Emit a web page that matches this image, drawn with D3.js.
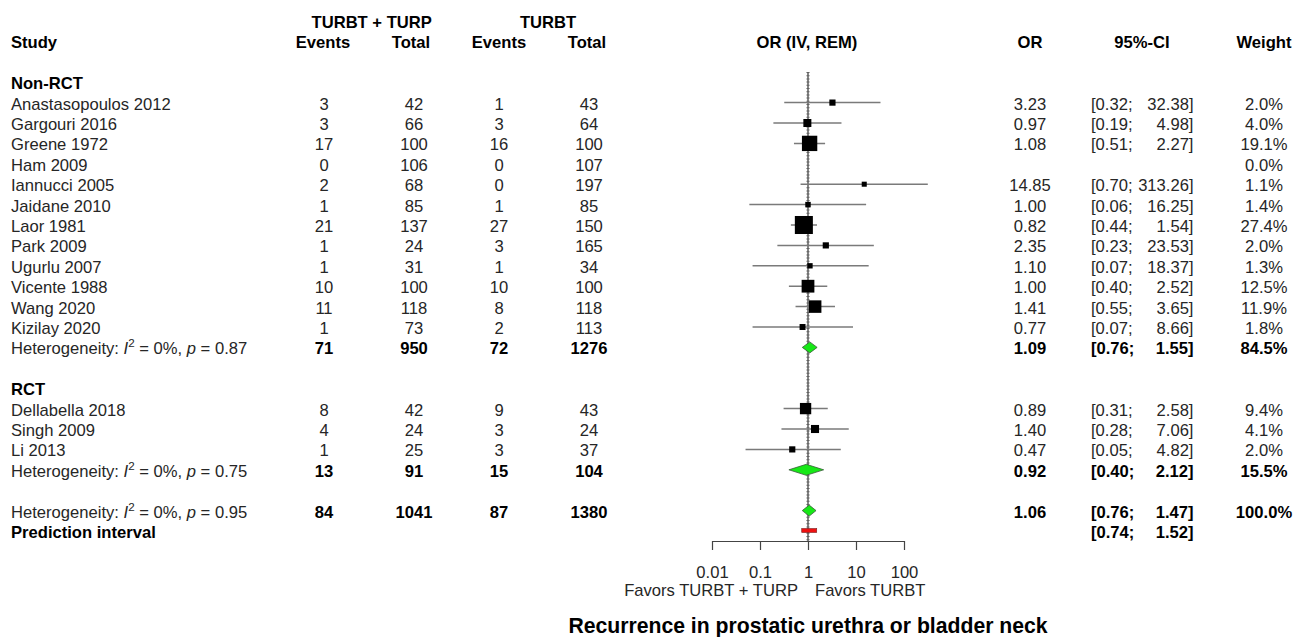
<!DOCTYPE html>
<html>
<head>
<meta charset="utf-8">
<script src="https://cdn.jsdelivr.net/npm/d3@7"></script>
<style>
  html, body { margin: 0; padding: 0; background: #fff; }
  svg { display: block; font-family: "Liberation Sans", Arial, Helvetica, sans-serif; }
</style>
</head>
<body>
<svg id="chart" width="1305" height="637"></svg>
<script>
// ---------------- DATA ----------------
const studyLabels = ["Anastasopoulos 2012","Gargouri 2016","Greene 1972","Ham 2009","Iannucci 2005",
  "Jaidane 2010","Laor 1981","Park 2009","Ugurlu 2007","Vicente 1988","Wang 2020","Kizilay 2020",
  "Dellabella 2018","Singh 2009","Li 2013"];
const studyGroup = ["Non-RCT","Non-RCT","Non-RCT","Non-RCT","Non-RCT","Non-RCT","Non-RCT","Non-RCT",
  "Non-RCT","Non-RCT","Non-RCT","Non-RCT","RCT","RCT","RCT"];
const eventsTurbtTurp = [3,3,17,0,2,1,21,1,1,10,11,1,8,4,1];
const totalTurbtTurp  = [42,66,100,106,68,85,137,24,31,100,118,73,42,24,25];
const eventsTurbt     = [1,3,16,0,0,1,27,3,1,10,8,2,9,3,3];
const totalTurbt      = [43,64,100,107,197,85,150,165,34,100,118,113,43,24,37];
const orValues = [3.23,0.97,1.08,null,14.85,1.00,0.82,2.35,1.10,1.00,1.41,0.77,0.89,1.40,0.47];
const ciLower  = [0.32,0.19,0.51,null,0.70,0.06,0.44,0.23,0.07,0.40,0.55,0.07,0.31,0.28,0.05];
const ciUpper  = [32.38,4.98,2.27,null,313.26,16.25,1.54,23.53,18.37,2.52,3.65,8.66,2.58,7.06,4.82];
const weightPct = [2.0,4.0,19.1,0.0,1.1,1.4,27.4,2.0,1.3,12.5,11.9,1.8,9.4,4.1,2.0];

const subgroupLabels = ["Non-RCT","RCT"];
const subgroupI2 = [0,0];
const subgroupP = [0.87,0.75];
const subgroupEventsTurbtTurp = [71,13];
const subgroupTotalTurbtTurp = [950,91];
const subgroupEventsTurbt = [72,15];
const subgroupTotalTurbt = [1276,104];
const subgroupOR = [1.09,0.92];
const subgroupLower = [0.76,0.40];
const subgroupUpper = [1.55,2.12];
const subgroupWeight = [84.5,15.5];

const overallI2 = 0;
const overallP = 0.95;
const overallCounts = [84,1041,87,1380];
const overallOR = 1.06;
const overallCI = [0.76,1.47];
const overallWeight = 100.0;
const predictionInterval = [0.74,1.52];

const axisTicks = [0.01,0.1,1,10,100];
const axisTickLabels = ["0.01","0.1","1","10","100"];

// ---------------- LAYOUT ----------------
const svg = d3.select("#chart");
const FS = 16.6;
const txt = "#262626";
const x = d3.scaleLog().domain([0.01,100]).range([712,904]);
const rowY = d3.scaleLinear().domain([0,1]).range([102.6,123.0]); // row center
const base = r => rowY(r) + 7;                                       // text baseline

const col = { study: 11, ev1: 324, tot1: 414, ev2: 499, tot2: 589, or: 1030, ciL: 1091, ciR: 1193.5, w: 1264 };
const f2 = d3.format(".2f"), f1 = d3.format(".1f");

function text(xp, y, s, opts = {}) {
  return svg.append("text").attr("x", xp).attr("y", y)
    .attr("font-size", opts.size || FS)
    .attr("font-weight", opts.bold ? "bold" : "normal")
    .attr("fill", opts.bold ? "#000" : txt)
    .attr("text-anchor", opts.anchor || "start")
    .text(s);
}
function hetText(y, i2, p) {
  const t = svg.append("text").attr("x", col.study).attr("y", y).attr("font-size", FS).attr("fill", txt);
  t.append("tspan").text("Heterogeneity: ");
  t.append("tspan").attr("font-style", "italic").text("I");
  t.append("tspan").attr("font-size", FS * 0.7).attr("dy", -7).text("2");
  t.append("tspan").attr("dy", 7).text(" = " + i2 + "%, ");
  t.append("tspan").attr("font-style", "italic").text("p");
  t.append("tspan").text(" = " + p.toFixed(2));
}
function ciText(y, lo, hi, bold) {
  text(col.ciL, y, "[" + f2(lo) + ";", { bold });
  text(col.ciR, y, f2(hi) + "]", { bold, anchor: "end" });
}

// headers
text(371.7, base(-4), "TURBT + TURP", { bold: true, anchor: "middle" });
text(548, base(-4), "TURBT", { bold: true, anchor: "middle" });
text(col.study, base(-3), "Study", { bold: true });
text(323, base(-3), "Events", { bold: true, anchor: "middle" });
text(411, base(-3), "Total", { bold: true, anchor: "middle" });
text(499, base(-3), "Events", { bold: true, anchor: "middle" });
text(587, base(-3), "Total", { bold: true, anchor: "middle" });
text(807, base(-3), "OR (IV, REM)", { bold: true, anchor: "middle" });
text(col.or, base(-3), "OR", { bold: true, anchor: "middle" });
text(1142, base(-3), "95%-CI", { bold: true, anchor: "middle" });
text(col.w, base(-3), "Weight", { bold: true, anchor: "middle" });

// assign rows
const groupStartRow = [-1, 14];
const rows = [];
subgroupLabels.forEach((g, gi) => {
  let r = groupStartRow[gi];
  text(col.study, base(r), g, { bold: true });
  studyLabels.forEach((s, i) => { if (studyGroup[i] === g) { r += 1; rows.push({ i, r }); } });
  r += 1;
  rows.push({ sub: gi, r });
});
const overallRow = 20, predRow = 21;

// null-effect line (drawn first, behind marks)
const refX = x(1);
svg.append("line").attr("x1", refX).attr("x2", refX).attr("y1", 72).attr("y2", 541)
  .attr("stroke", "#aaa").attr("stroke-width", 4).attr("stroke-dasharray", "1 2.2");
svg.append("line").attr("x1", refX).attr("x2", refX).attr("y1", 72).attr("y2", 541)
  .attr("stroke", "#333").attr("stroke-width", 1.2);

// study rows
rows.filter(d => d.i !== undefined).forEach(({ i, r }) => {
  const yb = base(r), yc = rowY(r);
  text(col.study, yb, studyLabels[i]);
  text(col.ev1, yb, eventsTurbtTurp[i], { anchor: "middle" });
  text(col.tot1, yb, totalTurbtTurp[i], { anchor: "middle" });
  text(col.ev2, yb, eventsTurbt[i], { anchor: "middle" });
  text(col.tot2, yb, totalTurbt[i], { anchor: "middle" });
  text(col.w, yb, f1(weightPct[i]) + "%", { anchor: "middle" });
  if (orValues[i] !== null) {
    text(col.or, yb, f2(orValues[i]), { anchor: "middle" });
    ciText(yb, ciLower[i], ciUpper[i], false);
    svg.append("line").attr("x1", x(ciLower[i])).attr("x2", x(ciUpper[i]))
      .attr("y1", yc).attr("y2", yc).attr("stroke", "#7a7a7a").attr("stroke-width", 1.5);
    const side = 1.8 + 3.1 * Math.sqrt(weightPct[i]);
    svg.append("rect").attr("x", x(orValues[i]) - side / 2).attr("y", yc - side / 2)
      .attr("width", side).attr("height", side).attr("fill", "#000");
  }
});

function diamond(yc, or, lo, hi, h) {
  svg.append("path")
    .attr("d", `M${x(lo)},${yc}L${x(or)},${yc - h}L${x(hi)},${yc}L${x(or)},${yc + h}Z`)
    .attr("fill", "#17e817").attr("stroke", "#3a5a3a").attr("stroke-width", 0.8);
}

// subgroup summary rows
rows.filter(d => d.sub !== undefined).forEach(({ sub, r }) => {
  const yb = base(r);
  hetText(yb, subgroupI2[sub], subgroupP[sub]);
  text(col.ev1, yb, subgroupEventsTurbtTurp[sub], { anchor: "middle", bold: true });
  text(col.tot1, yb, subgroupTotalTurbtTurp[sub], { anchor: "middle", bold: true });
  text(col.ev2, yb, subgroupEventsTurbt[sub], { anchor: "middle", bold: true });
  text(col.tot2, yb, subgroupTotalTurbt[sub], { anchor: "middle", bold: true });
  text(col.or, yb, f2(subgroupOR[sub]), { anchor: "middle", bold: true });
  ciText(yb, subgroupLower[sub], subgroupUpper[sub], true);
  text(col.w, yb, f1(subgroupWeight[sub]) + "%", { anchor: "middle", bold: true });
  diamond(rowY(r), subgroupOR[sub], subgroupLower[sub], subgroupUpper[sub], 5.5);
});

// overall
{
  const yb = base(overallRow);
  hetText(yb, overallI2, overallP);
  [col.ev1, col.tot1, col.ev2, col.tot2].forEach((cx, k) =>
    text(cx, yb, overallCounts[k], { anchor: "middle", bold: true }));
  text(col.or, yb, f2(overallOR), { anchor: "middle", bold: true });
  ciText(yb, overallCI[0], overallCI[1], true);
  text(col.w, yb, f1(overallWeight) + "%", { anchor: "middle", bold: true });
  diamond(rowY(overallRow), overallOR, overallCI[0], overallCI[1], 5.5);
}
// prediction interval
{
  const yb = base(predRow), yc = rowY(predRow) - 0.5;
  text(col.study, yb, "Prediction interval", { bold: true });
  ciText(yb, predictionInterval[0], predictionInterval[1], true);
  svg.append("rect").attr("x", x(predictionInterval[0])).attr("y", yc - 2)
    .attr("width", x(predictionInterval[1]) - x(predictionInterval[0])).attr("height", 4)
    .attr("fill", "#ee1111").attr("stroke", "#7a2020").attr("stroke-width", 0.6);
}

// axis
const axisG = svg.append("g").attr("transform", "translate(0,541)")
  .call(d3.axisBottom(x).tickValues(axisTicks).tickFormat((d, i) => axisTickLabels[i])
    .tickSize(9).tickSizeOuter(0).tickPadding(16));
axisG.select(".domain").attr("stroke", "#444").attr("stroke-width", 1.2);
axisG.selectAll(".tick line").attr("stroke", "#444").attr("stroke-width", 1.2);
axisG.selectAll(".tick text").attr("font-size", FS).attr("fill", txt)
  .attr("font-family", "Liberation Sans, Arial, sans-serif");

text(798, 596, "Favors TURBT + TURP", { anchor: "end" });
text(815, 596, "Favors TURBT", { anchor: "start" });
text(808, 633, "Recurrence in prostatic urethra or bladder neck", { bold: true, anchor: "middle", size: 21.2 });
</script>
</body>
</html>
